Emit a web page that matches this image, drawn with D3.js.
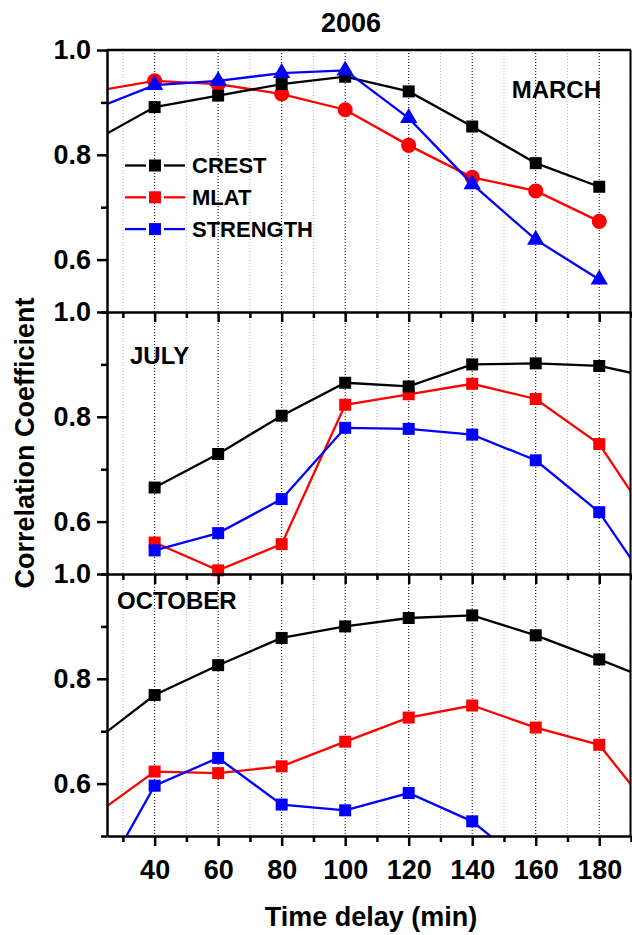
<!DOCTYPE html>
<html>
<head>
<meta charset="utf-8">
<script src="https://cdn.jsdelivr.net/npm/d3@7"></script>
<style>
  body { margin: 0; background: #fff; }
  svg { display: block; font-family: "Liberation Sans", Arial, sans-serif; font-weight: bold; }
</style>
</head>
<body>
<div id="chart"></div>
<script>
// Time delays (min); 20 and 200 only show up as line ends cut by the frame
const delays = [20, 40, 60, 80, 100, 120, 140, 160, 180, 200];
const months = ["MARCH", "JULY", "OCTOBER"];
const seriesNames = ["CREST", "MLAT", "STRENGTH"];
const seriesColors = ["#000000", "#ff0000", "#0000ff"];

// March
const marchCrest = [0.824, 0.891, 0.913, 0.935, 0.949, 0.921, 0.854, 0.784, 0.739, null];
const marchMlat = [0.920, 0.941, 0.935, 0.916, 0.886, 0.818, 0.757, 0.731, 0.673, null];
const marchStrength = [0.885, 0.933, 0.941, 0.956, 0.961, 0.870, 0.744, 0.638, 0.562, null];

// July
const julyCrest = [null, 0.665, 0.729, 0.802, 0.865, 0.858, 0.900, 0.902, 0.897, 0.871];
const julyMlat = [null, 0.560, 0.507, 0.557, 0.823, 0.843, 0.863, 0.834, 0.748, 0.566];
const julyStrength = [null, 0.545, 0.578, 0.643, 0.779, 0.777, 0.766, 0.717, 0.618, 0.44];

// October
const octCrest = [0.676, 0.769, 0.826, 0.878, 0.900, 0.916, 0.921, 0.883, 0.837, 0.789];
const octMlat = [0.535, 0.623, 0.620, 0.633, 0.680, 0.726, 0.749, 0.707, 0.674, 0.522];
const octStrength = [0.38, 0.596, 0.649, 0.560, 0.549, 0.582, 0.528, 0.43, null, null];

const xTicksMajor = [40, 60, 80, 100, 120, 140, 160, 180];
const xTicksMinor = [30, 50, 70, 90, 110, 130, 150, 170, 190];
const yTicksMajor = [0.6, 0.8, 1.0];
const yTicksMinor = [0.5, 0.7, 0.9];

const width = 632;
const height = 935;
const plotLeft = 107;
const plotRight = 631;
const plotTop = 50;
const panelHeight = 262;

const panels = [
  { label: "MARCH", series: [marchCrest, marchMlat, marchStrength], markers: ["square", "circle", "triangle"] },
  { label: "JULY", series: [julyCrest, julyMlat, julyStrength], markers: ["square", "square", "square"] },
  { label: "OCTOBER", series: [octCrest, octMlat, octStrength], markers: ["square", "square", "square"] },
];

const symbolTypes = {
  square: d3.symbol().type(d3.symbolSquare).size(144),
  circle: d3.symbol().type(d3.symbolCircle).size(180),
  triangle: d3.symbol().type(d3.symbolTriangle).size(130),
};

const svg = d3
  .select("#chart")
  .append("svg")
  .attr("width", width)
  .attr("height", height);

const x = d3.scaleLinear().domain([25, 190]).range([plotLeft, plotRight]);

// Vertical dotted grid through all panels
const plotBottom = plotTop + panelHeight * panels.length;
svg
  .selectAll(".grid-minor")
  .data(xTicksMinor)
  .enter()
  .append("line")
  .attr("x1", (d) => x(d))
  .attr("x2", (d) => x(d))
  .attr("y1", plotTop)
  .attr("y2", plotBottom)
  .style("stroke", "#b8b8b8")
  .style("stroke-width", 1)
  .style("stroke-dasharray", "1,2");

svg
  .selectAll(".grid-major")
  .data(xTicksMajor)
  .enter()
  .append("line")
  .attr("x1", (d) => x(d))
  .attr("x2", (d) => x(d))
  .attr("y1", plotTop)
  .attr("y2", plotBottom)
  .style("stroke", "#000")
  .style("stroke-width", 1)
  .style("stroke-dasharray", "1,2");

const drawOrder = [1, 0, 2]; // MLAT under CREST, STRENGTH on top

panels.forEach((panel, i) => {
  const top = plotTop + i * panelHeight;
  const bottom = top + panelHeight;
  const y = d3.scaleLinear().domain([0.5, 1.0]).range([bottom, top]);
  const isLast = i === panels.length - 1;

  svg
    .append("clipPath")
    .attr("id", `clip-${i}`)
    .append("rect")
    .attr("x", plotLeft)
    .attr("y", top)
    .attr("width", plotRight - plotLeft)
    .attr("height", panelHeight);

  const g = svg.append("g");

  const line = d3
    .line()
    .defined((d) => d.v != null)
    .x((d) => x(d.t))
    .y((d) => y(d.v));

  drawOrder.forEach((s) => {
    const pts = delays.map((t, k) => ({ t: t, v: panel.series[s][k] }));

    g.append("path")
      .datum(pts)
      .attr("clip-path", `url(#clip-${i})`)
      .attr("d", line)
      .style("fill", "none")
      .style("stroke", seriesColors[s])
      .style("stroke-width", 2.3);

    // only markers that fall inside the panel
    g.selectAll(`.m-${s}`)
      .data(pts.filter((d) => d.v != null && d.t >= 25 && d.t <= 190 && d.v >= 0.5))
      .enter()
      .append("path")
      .attr("transform", (d) => `translate(${x(d.t)},${y(d.v)})`)
      .attr("d", symbolTypes[panel.markers[s]]())
      .style("fill", seriesColors[s]);
  });

  // Left axis
  const yAxis = svg
    .append("g")
    .attr("transform", `translate(${plotLeft},0)`)
    .call(
      d3
        .axisLeft(y)
        .tickValues(yTicksMajor)
        .tickSize(10)
        .tickSizeOuter(0)
        .tickPadding(6)
        .tickFormat(d3.format(".1f"))
    );
  yAxis.selectAll("text").style("font-size", "27px").style("font-weight", "bold").style("font-family", "inherit");

  svg
    .append("g")
    .attr("transform", `translate(${plotLeft},0)`)
    .call(d3.axisLeft(y).tickValues(yTicksMinor).tickSize(6).tickFormat(""))
    .call((a) => a.select(".domain").remove());

  // Bottom axis of each panel
  const xAxis = svg
    .append("g")
    .attr("transform", `translate(0,${bottom})`)
    .call(
      d3
        .axisBottom(x)
        .tickValues(xTicksMajor)
        .tickSize(10)
        .tickSizeOuter(0)
        .tickPadding(14)
        .tickFormat(isLast ? d3.format("d") : "")
    );
  xAxis.selectAll("text").style("font-size", "27px").style("font-weight", "bold").style("font-family", "inherit");

  svg
    .append("g")
    .attr("transform", `translate(0,${bottom})`)
    .call(d3.axisBottom(x).tickValues(xTicksMinor).tickSize(6).tickFormat(""))
    .call((a) => a.select(".domain").remove());
});

// Frame: top and right border
svg
  .append("line")
  .attr("x1", plotLeft)
  .attr("x2", plotRight)
  .attr("y1", plotTop)
  .attr("y2", plotTop)
  .style("stroke", "#000")
  .style("stroke-width", 2.5);

svg
  .append("line")
  .attr("x1", plotRight - 0.5)
  .attr("x2", plotRight - 0.5)
  .attr("y1", plotTop)
  .attr("y2", plotBottom)
  .style("stroke", "#000")
  .style("stroke-width", 2);

svg.selectAll(".domain").style("stroke-width", 2.5);
svg.selectAll(".tick line").style("stroke-width", 2.5);

// Panel labels
svg.append("text").attr("x", 601).attr("y", 98).attr("text-anchor", "end").style("font-size", "24px").text(months[0]);
svg.append("text").attr("x", 130).attr("y", 364).style("font-size", "24px").text(months[1]);
svg.append("text").attr("x", 117).attr("y", 609).style("font-size", "24px").text(months[2]);

// Legend in the top panel: line - square - line
const legend = svg
  .selectAll(".legend")
  .data(seriesNames)
  .enter()
  .append("g")
  .attr("transform", (d, i) => `translate(125,${165.5 + i * 31.8})`);

legend
  .append("line")
  .attr("x1", 0)
  .attr("x2", 21)
  .style("stroke", (d, i) => seriesColors[i])
  .style("stroke-width", 2.3);

legend
  .append("line")
  .attr("x1", 39)
  .attr("x2", 60)
  .style("stroke", (d, i) => seriesColors[i])
  .style("stroke-width", 2.3);

legend
  .append("path")
  .attr("transform", "translate(30,0)")
  .attr("d", symbolTypes.square())
  .style("fill", (d, i) => seriesColors[i]);

legend
  .append("text")
  .attr("x", 67)
  .attr("dy", "0.36em")
  .style("font-size", "22px")
  .text((d) => d);

// Titles
svg.append("text").attr("x", 351).attr("y", 32).attr("text-anchor", "middle").style("font-size", "27px").text("2006");

svg
  .append("text")
  .attr("x", 371)
  .attr("y", 926)
  .attr("text-anchor", "middle")
  .style("font-size", "27px")
  .text("Time delay (min)");

svg
  .append("text")
  .attr("transform", "translate(34,443) rotate(-90)")
  .attr("text-anchor", "middle")
  .style("font-size", "27px")
  .text("Correlation Coefficient");
</script>
</body>
</html>
